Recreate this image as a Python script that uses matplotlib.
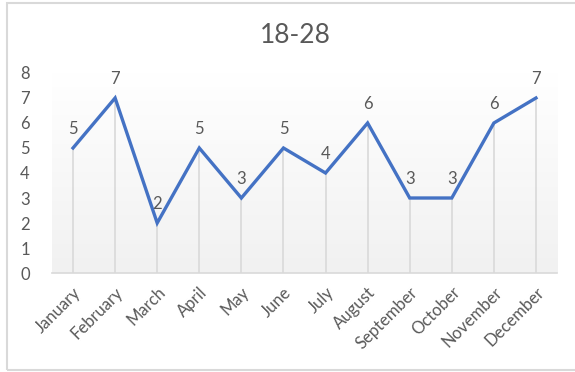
import numpy as np
import matplotlib.pyplot as plt
from matplotlib.patches import Rectangle

months = ['January', 'February', 'March', 'April', 'May', 'June', 'July',
          'August', 'September', 'October', 'November', 'December']
counts = [5, 7, 2, 5, 3, 5, 4, 6, 3, 3, 6, 7]
yticks = [0, 1, 2, 3, 4, 5, 6, 7, 8]

plt.rcParams['font.family'] = ['Lato', 'DejaVu Sans']
grey = '#595959'

fig = plt.figure(figsize=(5.75, 3.72), dpi=100)
ax = fig.add_axes([0.0904, 0.2661, 0.8783, 0.5377])

# outer chart border
fig.patches.append(Rectangle((7 / 575, 2 / 372), 575 / 575, 367 / 372,
                             transform=fig.transFigure, fill=False,
                             edgecolor='#d9d9d9', linewidth=1.5))

# soft vertical gradient in the plot area
grad = np.linspace(1.0, 0.0, 256).reshape(-1, 1)
ax.imshow(grad, extent=[0, 1, 0, 1], transform=ax.transAxes, aspect='auto',
          cmap=plt.matplotlib.colors.LinearSegmentedColormap.from_list(
              'bg', ['#f1f1f1', '#ffffff']), zorder=0)

x = np.arange(len(months))
ax.vlines(x, 0, counts, color='#d9d9d9', linewidth=1.2, zorder=1)
ax.plot(x, counts, color='#4472C4', linewidth=2.4, solid_joinstyle='miter', zorder=3)

for xi, v in zip(x, counts):
    ax.annotate(str(v), (xi, v), xytext=(0, 8), textcoords='offset points',
                ha='center', va='bottom', fontsize=12, color=grey, zorder=4)

ax.set_xlim(-0.5, len(months) - 0.5)
ax.set_ylim(0, 8)
ax.set_yticks(yticks)
ax.set_xticks(x)
ax.set_xticklabels(months, rotation=45, ha='right', rotation_mode='anchor')
ax.tick_params(axis='both', length=0, labelsize=12, labelcolor=grey)
ax.tick_params(axis='y', pad=16)
ax.tick_params(axis='x', pad=8)

for side in ['top', 'right', 'left']:
    ax.spines[side].set_visible(False)
ax.spines['bottom'].set_color('#d9d9d9')
ax.spines['bottom'].set_linewidth(1.2)

fig.text(0.513, 0.905, '18-28', ha='center', va='center', fontsize=19, color=grey)

plt.savefig('out.png', dpi=100)
